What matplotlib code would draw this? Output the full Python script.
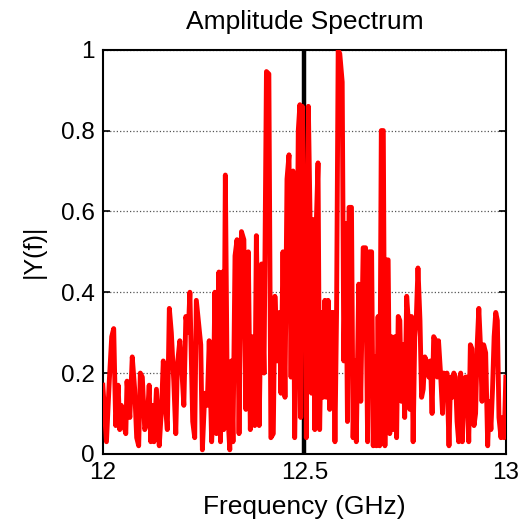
import matplotlib
matplotlib.use('Agg')
from matplotlib import pyplot as plt

plt.rcParams['font.family'] = ['Liberation Sans', 'DejaVu Sans']

# frequency (GHz) and |Y(f)|
freq = [
    12.000, 12.005, 12.009, 12.016, 12.022, 12.027, 12.032, 12.038, 12.042, 12.046,
    12.050, 12.057, 12.060, 12.067, 12.073, 12.079, 12.084, 12.089, 12.093, 12.098,
    12.104, 12.110, 12.115, 12.119, 12.123, 12.127, 12.133, 12.140, 12.146, 12.150,
    12.156, 12.160, 12.165, 12.170, 12.176, 12.181, 12.185, 12.191, 12.197, 12.201,
    12.206, 12.212, 12.216, 12.223, 12.228, 12.232, 12.238, 12.243, 12.247, 12.253,
    12.259, 12.264, 12.270, 12.274, 12.278, 12.282, 12.288, 12.292, 12.297, 12.300,
    12.304, 12.309, 12.315, 12.319, 12.323, 12.328, 12.333, 12.338,
    12.344, 12.350, 12.355, 12.361, 12.366, 12.371, 12.377, 12.381, 12.388, 12.394,
    12.400, 12.406, 12.412, 12.417, 12.423, 12.427, 12.433, 12.438, 12.442, 12.447,
    12.452, 12.457, 12.462, 12.467, 12.472, 12.476, 12.481, 12.485, 12.489, 12.491,
    12.495, 12.499, 12.502, 12.505, 12.510, 12.514, 12.518, 12.522, 12.526, 12.530,
    12.534, 12.538, 12.543, 12.547, 12.551, 12.555, 12.559, 12.563, 12.567, 12.572,
    12.576, 12.580, 12.584, 12.588, 12.594, 12.598, 12.603, 12.607, 12.611, 12.617,
    12.621, 12.625, 12.629, 12.635, 12.640, 12.646, 12.652, 12.657, 12.661,
    12.667, 12.671, 12.675, 12.679, 12.683, 12.687, 12.691, 12.696, 12.700, 12.704,
    12.708, 12.712, 12.716, 12.720, 12.725, 12.729, 12.733, 12.737, 12.741, 12.745,
    12.749, 12.754, 12.758, 12.762, 12.766, 12.770, 12.774, 12.778, 12.782, 12.787,
    12.791, 12.795, 12.799, 12.803, 12.809, 12.813, 12.817, 12.821, 12.826, 12.830,
    12.833, 12.838, 12.843, 12.846, 12.851, 12.854, 12.859, 12.863, 12.867, 12.871,
    12.875, 12.879, 12.883, 12.888, 12.892, 12.896, 12.900, 12.904, 12.908, 12.912,
    12.916, 12.921, 12.925, 12.929, 12.933, 12.937, 12.941, 12.945, 12.950, 12.955,
    12.959, 12.963, 12.967, 12.971, 12.975, 12.979, 12.983, 12.988, 12.992, 12.996,
    13.000,
]
amp = [
    0.17, 0.09, 0.03, 0.18, 0.29, 0.31, 0.07, 0.17, 0.06, 0.12,
    0.08, 0.05, 0.18, 0.09, 0.24, 0.16, 0.04, 0.02, 0.20, 0.19,
    0.06, 0.08, 0.17, 0.03, 0.12, 0.03, 0.16, 0.02, 0.12, 0.23,
    0.11, 0.06, 0.36, 0.30, 0.18, 0.05, 0.22, 0.28, 0.19, 0.12,
    0.34, 0.30, 0.40, 0.08, 0.04, 0.38, 0.32, 0.27, 0.01, 0.15,
    0.12, 0.28, 0.03, 0.12, 0.40, 0.05, 0.45, 0.03, 0.45, 0.06,
    0.69, 0.12, 0.01, 0.23, 0.03, 0.49, 0.53, 0.05,
    0.55, 0.53, 0.11, 0.50, 0.06, 0.29, 0.07, 0.54, 0.07, 0.47,
    0.20, 0.946, 0.94, 0.04, 0.05, 0.39, 0.23, 0.35, 0.15, 0.50,
    0.14, 0.68, 0.74, 0.19, 0.70, 0.04, 0.31, 0.80, 0.864, 0.09,
    0.86, 0.58, 0.63, 0.04, 0.86, 0.60, 0.15, 0.58, 0.06, 0.58,
    0.72, 0.06, 0.35, 0.14, 0.38, 0.14, 0.38, 0.11, 0.35, 0.35,
    0.03, 0.35, 1.00, 0.99, 0.92, 0.23, 0.57, 0.08, 0.61, 0.61,
    0.04, 0.23, 0.03, 0.42, 0.13, 0.51, 0.51, 0.03, 0.50,
    0.50, 0.02, 0.24, 0.02, 0.34, 0.02, 0.80, 0.80, 0.02, 0.48,
    0.48, 0.05, 0.29, 0.06, 0.29, 0.04, 0.34, 0.33, 0.13, 0.27,
    0.09, 0.39, 0.33, 0.11, 0.34, 0.03, 0.29, 0.34, 0.46, 0.33,
    0.14, 0.16, 0.24, 0.23, 0.19, 0.23, 0.10, 0.29, 0.28, 0.19,
    0.28, 0.20, 0.10, 0.20, 0.19, 0.20, 0.02, 0.19, 0.14, 0.20,
    0.19, 0.08, 0.03, 0.20, 0.03, 0.13, 0.19, 0.19, 0.03, 0.27,
    0.26, 0.07, 0.10, 0.27, 0.36, 0.27, 0.13, 0.27, 0.25, 0.02,
    0.13, 0.06, 0.16, 0.29, 0.35, 0.33, 0.09, 0.04, 0.09, 0.04,
    0.19,
]
center_freq = 12.5

fig = plt.figure(figsize=(5.22, 5.29), dpi=100)
ax = fig.add_axes([0.197, 0.142, 0.772, 0.764])

ax.axvline(center_freq, color='black', linewidth=3.2, zorder=2)
ax.plot(freq, amp, color='#ff0000', linewidth=3.5, zorder=3)

ax.set_xlim(12, 13)
ax.set_ylim(0, 1)
ax.set_xticks([12, 12.5, 13])
ax.set_xticklabels(['12', '12.5', '13'])
ax.set_yticks([0, 0.2, 0.4, 0.6, 0.8, 1])
ax.set_yticklabels(['0', '0.2', '0.4', '0.6', '0.8', '1'])
ax.tick_params(direction='in', top=True, right=True, length=5, width=1.2,
               labelsize=17.5, pad=6)
ax.yaxis.grid(True, linestyle=':', color='#555555', linewidth=0.9)
for s in ax.spines.values():
    s.set_linewidth(1.5)

ax.set_title('Amplitude Spectrum', fontsize=19, pad=15)
ax.set_xlabel('Frequency (GHz)', fontsize=19, labelpad=8)
ax.set_ylabel('|Y(f)|', fontsize=18, labelpad=11)

fig.savefig('out.png', dpi=100)
